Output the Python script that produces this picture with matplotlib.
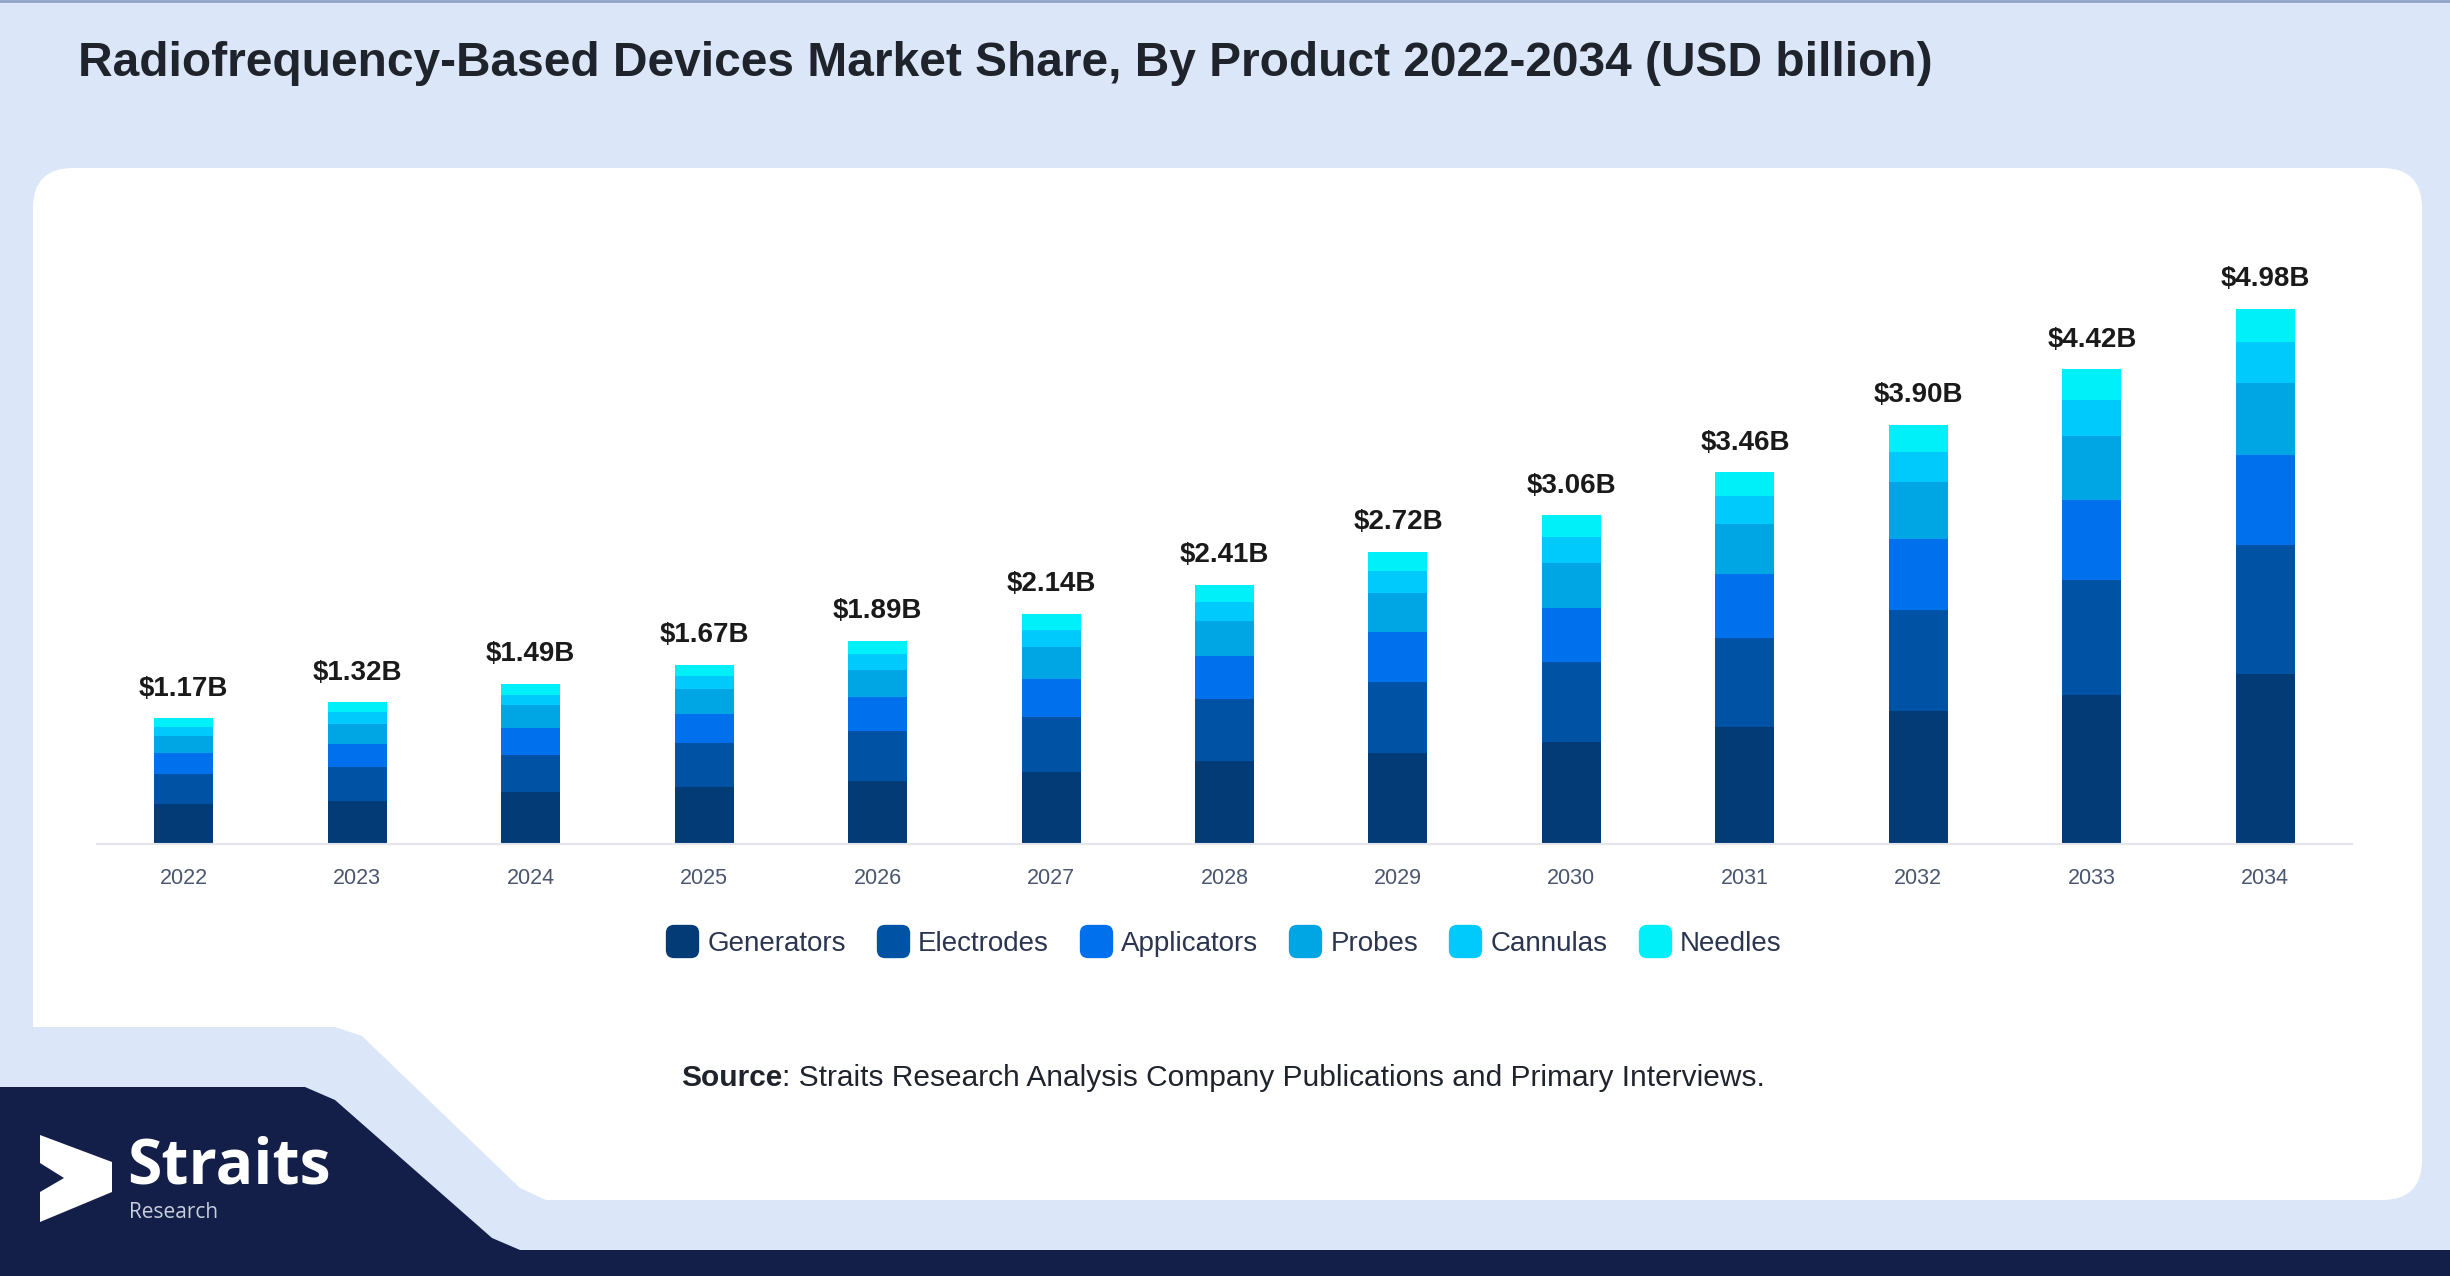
import numpy as np
import matplotlib
matplotlib.use("Agg")
from matplotlib import pyplot as plt
from matplotlib.patches import FancyBboxPatch, Polygon
from matplotlib.lines import Line2D

plt.rcParams['font.family'] = ['Liberation Sans', 'DejaVu Sans']

# data (USD billion)
years = ['2022', '2023', '2024', '2025', '2026', '2027', '2028',
         '2029', '2030', '2031', '2032', '2033', '2034']
generators = [0.37, 0.40, 0.48, 0.53, 0.59, 0.67, 0.77, 0.85, 0.95, 1.09, 1.24, 1.39, 1.58]
electrodes = [0.28, 0.32, 0.35, 0.41, 0.46, 0.51, 0.58, 0.66, 0.74, 0.83, 0.94, 1.07, 1.20]
applicators = [0.20, 0.21, 0.25, 0.27, 0.32, 0.36, 0.40, 0.46, 0.51, 0.59, 0.66, 0.74, 0.84]
probes = [0.16, 0.19, 0.21, 0.23, 0.25, 0.29, 0.33, 0.37, 0.42, 0.47, 0.53, 0.60, 0.67]
cannulas = [0.08, 0.11, 0.10, 0.12, 0.15, 0.16, 0.17, 0.20, 0.24, 0.26, 0.28, 0.33, 0.38]
needles = [0.08, 0.09, 0.10, 0.11, 0.12, 0.15, 0.16, 0.18, 0.20, 0.22, 0.25, 0.29, 0.31]

segments = ['Generators', 'Electrodes', 'Applicators', 'Probes', 'Cannulas', 'Needles']
seg_values = [generators, electrodes, applicators, probes, cannulas, needles]
seg_colors = ['#033b77', '#0052a5', '#0070ec', '#00a5e3', '#00c9fb', '#00f0fa']

W, H = 2450, 1276
bg = '#dbe7f8'
navy = '#131f48'

fig = plt.figure(figsize=(W / 100, H / 100), dpi=100, facecolor=bg)

# background shapes, drawn in pixel coordinates
deco = fig.add_axes([0, 0, 1, 1])
deco.set_xlim(0, W)
deco.set_ylim(H, 0)
deco.axis('off')
deco.add_patch(FancyBboxPatch((33, 168), 2422 - 33, 1200 - 168,
                              boxstyle='round,pad=0,rounding_size=40',
                              fc='white', ec='none'))
deco.add_patch(Polygon([(0, 1027), (335, 1027), (362, 1036), (520, 1188),
                        (548, 1201), (0, 1201)], closed=True, fc=bg, ec='none'))
deco.add_patch(Polygon([(0, 1087), (305, 1087), (335, 1100), (492, 1238),
                        (520, 1250), (W, 1250), (W, H), (0, H)],
                       closed=True, fc=navy, ec='none'))
deco.plot([0, W], [1, 1], color='#8fa3c9', lw=2)

# logo
deco.add_patch(Polygon([(40, 1135), (112, 1162), (112, 1192), (40, 1222),
                        (40, 1192), (64, 1178), (40, 1163)],
                       closed=True, fc='white', ec='none'))
deco.text(127, 1184, 'Straits', color='white', fontsize=45, fontweight='bold',
          family='Open Sans', va='baseline', ha='left')
deco.text(129, 1218, 'Research', color='#c9cfdc', fontsize=15,
          family='Open Sans', va='baseline', ha='left')

# title
fig.text(78 / W, 1 - 64 / H,
         'Radiofrequency-Based Devices Market Share, By Product 2022-2034 (USD billion)',
         fontsize=34.5, fontweight='bold', color='#1f232b', ha='left', va='center')

# chart
ax = fig.add_axes([97 / W, 1 - 844 / H, (2352 - 97) / W, 5.5 * 107.4 / H])
ax.set_facecolor('none')
x = np.arange(len(years))
bottom = np.zeros(len(years))
for name, vals, col in zip(segments, seg_values, seg_colors):
    ax.bar(x, vals, width=0.34, bottom=bottom, color=col, label=name, zorder=2)
    bottom += np.array(vals)

for xi, tot in zip(x, bottom):
    ax.annotate(f'${tot:.2f}B', (xi, tot), xytext=(0, 12), textcoords='offset points',
                ha='center', va='bottom', fontsize=20, fontweight='bold', color='#1a1a1a')

ax.set_xlim(-0.5, len(years) - 0.5)
ax.set_ylim(0, 5.5)
ax.set_xticks(x)
ax.set_xticklabels(years)
ax.tick_params(axis='x', length=0, pad=17, labelsize=15.5, labelcolor='#4a5670')
ax.set_yticks([])
for s in ['top', 'right', 'left']:
    ax.spines[s].set_visible(False)
ax.spines['bottom'].set_color('#e3e5ea')
ax.spines['bottom'].set_linewidth(1.5)

# legend with rounded square markers
rsq = FancyBboxPatch((-1, -1), 2, 2, boxstyle='round,pad=0,rounding_size=0.5').get_path()
handles = [Line2D([], [], ls='none', marker=rsq, markersize=24, markerfacecolor=c,
                  markeredgecolor='none') for c in seg_colors]
fig.legend(handles, segments, loc='center', bbox_to_anchor=(1224 / W, 1 - 944 / H),
           ncol=6, frameon=False, fontsize=20, labelcolor='#2b3550',
           handlelength=1.1, handletextpad=0.35, columnspacing=1.15)

# source line
src = fig.text(681 / W, 1 - 1078 / H, 'Source', fontsize=21.5, fontweight='bold',
               color='#1f232b', ha='left', va='center')
ax.annotate(': Straits Research Analysis Company Publications and Primary Interviews.',
            xy=(1, 0), xycoords=src, ha='left', va='bottom', fontsize=21.5,
            color='#1f232b', annotation_clip=False)

fig.savefig('out.png', dpi=100, facecolor=bg)
